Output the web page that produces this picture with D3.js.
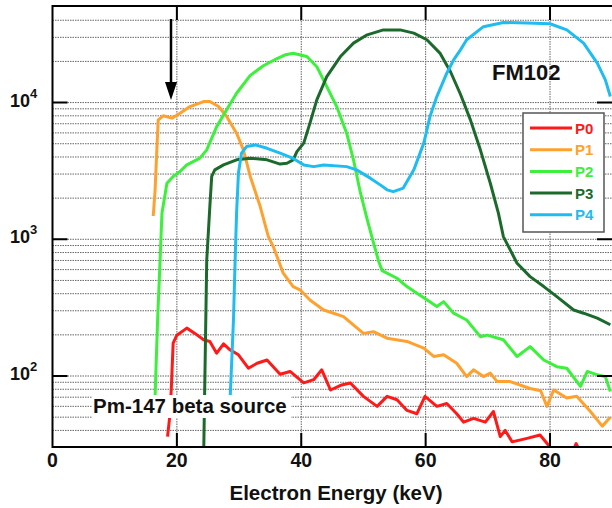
<!DOCTYPE html>
<html>
<head>
<meta charset="utf-8">
<script src="https://cdn.jsdelivr.net/npm/d3@7"></script>
<style>
  body { margin: 0; background: #fff; }
  text { font-family: Arial, "Liberation Sans", sans-serif; font-weight: bold; }
</style>
</head>
<body>
<svg width="612" height="508"></svg>
<script>
// series data: [energy keV, counts]
var p0 = [[18.5,36],[18.8,48],[19.1,80],[19.4,174],[20.0,199],[21.6,224],[22.9,205],[24.3,184],[25.3,179],
  [26.4,147],[27.5,172],[28.5,156],[29.9,143],[31.5,114],[32.9,124],[34.5,131],[36.6,103],[38.2,108],
  [40.4,89],[42.0,94],[43.3,111],[44.7,79],[46.5,86],[47.9,89],[50.0,71],[52.2,60],[53.8,71],[55.4,67],
  [57.0,56],[58.6,53],[59.9,71],[61.8,60],[63.4,63],[65.0,53],[66.1,46],[67.7,49],[69.6,46],[70.9,55],
  [72.0,36],[72.8,40],[73.9,33],[76.3,35],[78.4,37],[79.8,31],[81.0,26],[83.5,27],[84.2,32],[85.0,27],
  [87.0,24],[90.0,22]];
var p1 = [[16.2,1480],[16.5,2300],[16.8,4770],[17.0,7470],[17.8,8000],[19.2,7690],[20.5,8360],[22.1,9350],
  [24.3,10170],[25.3,10170],[26.7,9350],[28.0,7900],[29.6,5970],[30.7,4510],[31.8,2880],[33.4,1735],
  [34.7,1050],[35.5,885],[37.1,565],[38.7,451],[39.8,427],[41.4,360],[43.6,304],[45.2,288],[46.8,272],
  [50.0,205],[51.6,211],[53.8,189],[57.0,179],[59.7,160],[61.3,139],[62.9,143],[65.0,124],[66.6,99],
  [67.7,111],[69.3,99],[70.4,105],[71.5,91],[73.6,91],[76.8,81],[78.5,78],[79.5,60],[80.6,79],[82.7,69],
  [84.3,71],[86.5,55],[88.4,43],[89.7,50]];
var p2 = [[16.5,72],[16.9,257],[17.3,706],[17.6,1553],[18.4,2570],[19.4,2880],[20.5,3130],[21.6,3500],
  [23.7,3920],[24.8,4510],[26.4,6670],[28.0,8850],[29.6,11700],[31.8,15800],[33.9,18600],[36.1,21000],
  [37.5,22400],[38.7,22970],[40.9,21700],[42.5,18300],[44.1,13100],[45.7,9350],[47.3,5970],[48.4,3810],
  [49.5,2200],[50.6,1400],[51.6,950],[52.4,700],[53.0,590],[55.4,519],[57.0,451],[58.6,403],[60.2,361],
  [61.8,322],[62.9,350],[64.5,288],[66.6,257],[68.8,194],[69.9,199],[72.5,184],[74.7,139],[76.8,164],
  [79.0,131],[81.1,117],[82.7,114],[84.9,84],[86.0,108],[87.6,102],[88.9,99],[89.7,77]];
var p3 = [[24.3,25],[24.8,700],[25.3,1735],[25.6,2880],[26.1,3220],[27.5,3500],[29.6,3810],[31.8,3920],
  [34.5,3810],[36.6,3550],[37.7,3600],[38.7,3810],[39.3,4380],[40.4,5050],[41.4,7070],[42.5,10470],
  [44.1,15500],[46.3,21700],[48.4,27200],[50.6,31300],[53.2,34000],[55.9,34000],[58.1,32200],[60.2,28800],
  [62.3,23000],[64.0,16800],[65.6,11500],[67.2,7470],[68.8,4510],[70.4,2570],[71.7,1553],[72.5,1047],
  [74.7,668],[76.8,533],[79.0,451],[81.1,381],[83.8,304],[85.4,288],[87.6,265],[89.7,237]];
var p4 = [[28.5,60],[28.6,75],[29.1,257],[29.4,791],[29.6,1553],[29.9,3050],[30.4,4270],[31.2,4766],
  [32.6,4900],[34.5,4630],[36.6,4270],[38.7,3900],[40.4,3500],[42.0,3400],[43.6,3500],[47.3,3400],
  [48.9,3220],[51.1,2800],[52.7,2500],[53.8,2300],[54.8,2230],[56.4,2370],[58.1,3220],[59.7,5050],
  [60.7,7900],[61.8,11060],[63.4,16400],[64.5,20500],[65.6,24300],[66.6,28800],[69.3,35900],[72.5,38500],
  [76.3,38200],[80.0,37700],[82.7,34000],[85.4,27200],[87.6,19400],[88.9,14650],[89.7,11070]];

var names  = ["P0", "P1", "P2", "P3", "P4"];
var colors = ["#ff1a1a", "#ffa12e", "#3cf03c", "#1b6a2c", "#1ebcf0"];
var xTicks = [0, 20, 40, 60, 80];
var yMajor = [100, 1000, 10000];

var svg = d3.select("svg"),
margin = { top: 6, right: 0, bottom: 61, left: 52.5 },
width  = +svg.attr("width"),
height = +svg.attr("height");

const xScale = d3.scaleLinear().domain([0, 90]).range([margin.left, 612.2]);
const yScale = d3.scaleLog().domain([30, 50000]).range([447.5, 7]);
const top_ = 6, bottom = 447;

// minor grid values
var gridY = [];
[10, 100, 1000, 10000].forEach(d => {
  for (var k = 1; k < 10; k++) {
    var v = d * k;
    if (v > 30 && v < 50000) gridY.push(v);
  }
});

const g = svg.append("g");

//--- grid ----//
g.selectAll(".gy").data(gridY).enter().append("line")
  .attr("x1", margin.left).attr("x2", 612)
  .attr("y1", d => yScale(d)).attr("y2", d => yScale(d))
  .attr("stroke", "#666").attr("stroke-width", 1).attr("stroke-dasharray", "1.5,1");

g.selectAll(".gx").data([20, 40, 60, 80]).enter().append("line")
  .attr("x1", d => xScale(d)).attr("x2", d => xScale(d))
  .attr("y1", top_).attr("y2", bottom)
  .attr("stroke", "#666").attr("stroke-width", 1).attr("stroke-dasharray", "1.5,1");

//--- curves ----//
svg.append("clipPath").attr("id", "clip").append("rect")
  .attr("x", margin.left).attr("y", top_).attr("width", 612 - margin.left).attr("height", bottom - top_);

var line = d3.line().x(d => xScale(d[0])).y(d => yScale(d[1]));
var series = [p0, p1, p2, p3, p4];

g.append("g").attr("clip-path", "url(#clip)")
  .selectAll("path").data(series).enter().append("path")
  .attr("d", line)
  .attr("fill", "none")
  .attr("stroke", (d, i) => colors[i])
  .attr("stroke-width", 3)
  .attr("stroke-linejoin", "round");

//--- label with white box ----//
g.append("rect").attr("x", 92).attr("y", 395).attr("width", 199).attr("height", 23).attr("fill", "#fff");
g.append("text").attr("x", 93).attr("y", 413).attr("font-size", "20.5px").attr("fill", "#111")
  .text("Pm-147 beta source");

g.append("text").attr("x", 492).attr("y", 80).attr("font-size", "22px").attr("fill", "#111").text("FM102");

//--- arrow ----//
g.append("line").attr("x1", 171).attr("x2", 171).attr("y1", 19).attr("y2", 86)
  .attr("stroke", "#000").attr("stroke-width", 2.5);
g.append("path").attr("d", "M165,82 L177,82 L171,100 Z").attr("fill", "#000");

//--- frame and ticks ----//
g.append("path").attr("d", "M612," + top_ + " H" + margin.left + " V" + bottom + " H612")
  .attr("fill", "none").attr("stroke", "#000").attr("stroke-width", 2);

g.selectAll(".tb").data([20, 40, 60, 80]).enter().append("path")
  .attr("d", d => "M" + xScale(d) + "," + bottom + " v-14 M" + xScale(d) + "," + top_ + " v14")
  .attr("stroke", "#000").attr("stroke-width", 2);

g.selectAll(".tl").data(yMajor).enter().append("path")
  .attr("d", d => "M" + margin.left + "," + yScale(d) + " h15 M612," + yScale(d) + " h-15")
  .attr("stroke", "#000").attr("stroke-width", 2);

// x tick labels
g.selectAll(".xl").data(xTicks).enter().append("text")
  .attr("x", d => xScale(d)).attr("y", 467)
  .attr("text-anchor", "middle").attr("font-size", "19.5px").attr("fill", "#111")
  .text(d => d);

// y tick labels 10^n
var yl = g.selectAll(".yl").data(yMajor).enter().append("text")
  .attr("x", 10).attr("y", d => yScale(d) + 4)
  .attr("font-size", "18px").attr("fill", "#111");
yl.append("tspan").text("10");
yl.append("tspan").attr("dy", -9).attr("font-size", "13px").text(d => Math.round(Math.log10(d)));

g.append("text").attr("x", 336).attr("y", 500).attr("text-anchor", "middle")
  .attr("font-size", "20.5px").attr("fill", "#111").text("Electron Energy (keV)");

//--- legend ----//
var legend = g.append("g");
legend.append("rect").attr("x", 523).attr("y", 113).attr("width", 81).attr("height", 119)
  .attr("fill", "#fff").attr("stroke", "#555").attr("stroke-width", 1.5);
var items = legend.selectAll(".li").data(names).enter().append("g")
  .attr("transform", (d, i) => "translate(0," + (128 + i * 21.7) + ")");
items.append("line").attr("x1", 530).attr("x2", 572).attr("y1", 0).attr("y2", 0)
  .attr("stroke", (d, i) => colors[i]).attr("stroke-width", 3);
items.append("text").attr("x", 575).attr("y", 5.5).attr("font-size", "15px")
  .attr("fill", (d, i) => colors[i]).text(d => d);
</script>
</body>
</html>
